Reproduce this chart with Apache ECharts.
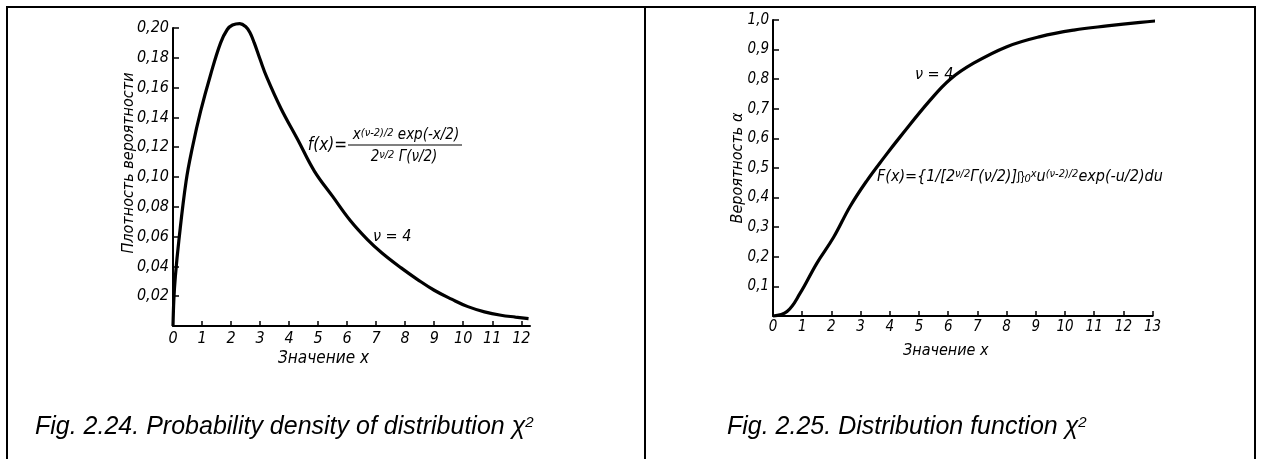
<!DOCTYPE html>
<html>
<head>
<meta charset="utf-8">
<script src="https://cdn.jsdelivr.net/npm/echarts@6/dist/echarts.min.js"></script>
<style>
  html, body { margin: 0; padding: 0; background: #fff; }
  #chart { width: 1263px; height: 459px; }
</style>
</head>
<body>
<div id="chart"></div>
<script>
// Chi-square distribution, v = 4: density (left) and distribution function (right)
const densityX = [0, 0.03, 0.08, 0.2, 0.45, 0.67, 0.95, 1.3, 1.64, 1.87, 2.05, 2.3, 2.5, 2.65, 2.8, 3.0, 3.23, 3.72, 4.3, 4.87, 5.5, 6.1, 6.7, 7.2, 7.86, 8.44, 9.0, 9.6, 10.16, 10.73, 11.3, 11.8, 12.25];
const densityY = [0, 0.018, 0.033, 0.057, 0.097, 0.12, 0.144, 0.169, 0.19, 0.199, 0.202, 0.203, 0.201, 0.197, 0.19, 0.179, 0.167, 0.146, 0.125, 0.104, 0.087, 0.071, 0.058, 0.049, 0.039, 0.031, 0.024, 0.018, 0.013, 0.0095, 0.0072, 0.006, 0.005];

const cdfX = [0, 0.48, 0.93, 1.5, 2.07, 2.64, 3.2, 3.8, 4.36, 5.39, 6.07, 6.87, 8.01, 9.15, 10.3, 11.44, 12.58, 13.49];
const cdfY = [0, 0.015, 0.077, 0.178, 0.265, 0.37, 0.455, 0.535, 0.606, 0.73, 0.8, 0.854, 0.91, 0.944, 0.966, 0.98, 0.992, 1.0];

const densityXTicks = [0, 1, 2, 3, 4, 5, 6, 7, 8, 9, 10, 11, 12];

const axisNames = {
  densityY: 'Плотность вероятности',
  cdfY: 'Вероятность α',
  x: 'Значение x'
};
const captions = [
  'Fig. 2.24. Probability density of distribution ',
  'Fig. 2.25. Distribution function '
];

const zip = (xs, ys) => xs.map((x, i) => [x, ys[i]]);

const NARROW = '"Liberation Sans Narrow", "DejaVu Sans Condensed", "Liberation Sans", sans-serif';
const CAPTION_FONT = '"Liberation Sans", Arial, sans-serif';

const axisLineStyle = { show: true, onZero: false, lineStyle: { color: '#000', width: 2 } };
const tickStyle = { show: true, inside: true, length: 5, lineStyle: { color: '#000', width: 1.5 } };

function labelFont(size) {
  return { color: '#000', fontFamily: NARROW, fontStyle: 'italic', fontSize: size };
}

const chart = echarts.init(document.getElementById('chart'), null, { renderer: 'canvas' });

chart.setOption({
  animation: false,
  backgroundColor: '#fff',
  grid: [
    { left: 173, top: 28, width: 357, height: 298 },
    { left: 773, top: 20, width: 379.6, height: 296 }
  ],
  xAxis: [
    {
      gridIndex: 0, type: 'value', min: 0, max: 12.3,
      axisLine: axisLineStyle,
      axisTick: Object.assign({}, tickStyle, { customValues: densityXTicks }),
      axisLabel: Object.assign(labelFont(16), { margin: 5, customValues: densityXTicks }),
      splitLine: { show: false },
      name: axisNames.x, nameLocation: 'middle', nameGap: 24, nameMoveOverlap: false,
      nameTextStyle: Object.assign(labelFont(17), { padding: [0, 56, 0, 0] })
    },
    {
      gridIndex: 1, type: 'value', min: 0, max: 13, interval: 1,
      axisLine: axisLineStyle,
      axisTick: tickStyle,
      axisLabel: Object.assign(labelFont(15), { margin: 4 }),
      splitLine: { show: false },
      name: axisNames.x, nameLocation: 'middle', nameGap: 27, nameMoveOverlap: false,
      nameTextStyle: Object.assign(labelFont(16), { padding: [0, 34, 0, 0] })
    }
  ],
  yAxis: [
    {
      gridIndex: 0, type: 'value', min: 0, max: 0.2, interval: 0.02,
      axisLine: axisLineStyle,
      axisTick: Object.assign({}, tickStyle, { length: 6 }),
      axisLabel: Object.assign(labelFont(16), {
        margin: 4,
        formatter: v => (v === 0 ? '' : v.toFixed(2).replace('.', ','))
      }),
      splitLine: { show: false },
      name: axisNames.densityY, nameLocation: 'middle', nameRotate: 90, nameGap: 36,
      nameMoveOverlap: false,
      nameTextStyle: Object.assign(labelFont(16), { padding: [0, 0, 0, 28] })
    },
    {
      gridIndex: 1, type: 'value', min: 0, max: 1, interval: 0.1,
      axisLine: axisLineStyle,
      axisTick: Object.assign({}, tickStyle, { length: 6 }),
      axisLabel: Object.assign(labelFont(15), {
        margin: 4,
        formatter: v => (v === 0 ? '' : v.toFixed(1).replace('.', ','))
      }),
      splitLine: { show: false },
      name: axisNames.cdfY, nameLocation: 'middle', nameRotate: 90, nameGap: 27,
      nameMoveOverlap: false,
      nameTextStyle: labelFont(16)
    }
  ],
  series: [
    {
      type: 'line', xAxisIndex: 0, yAxisIndex: 0,
      data: zip(densityX, densityY),
      smooth: 0.4, showSymbol: false, clip: false,
      lineStyle: { color: '#000', width: 3.2 }
    },
    {
      type: 'line', xAxisIndex: 1, yAxisIndex: 1,
      data: zip(cdfX, cdfY),
      smooth: 0.4, showSymbol: false, clip: false,
      lineStyle: { color: '#000', width: 3.2 }
    }
  ],
  graphic: [
    // frame around both figures
    {
      type: 'rect', silent: true,
      shape: { x: 7, y: 7, width: 1248, height: 470 },
      style: { fill: 'none', stroke: '#000', lineWidth: 2 }
    },
    {
      type: 'line', silent: true,
      shape: { x1: 645, y1: 7, x2: 645, y2: 470 },
      style: { stroke: '#000', lineWidth: 2 }
    },
    // density formula
    {
      type: 'text', x: 347, y: 146,
      style: { text: 'f(x)=', align: 'right', verticalAlign: 'middle', fill: '#000',
               fontFamily: NARROW, fontStyle: 'italic', fontSize: 17 }
    },
    {
      type: 'text', x: 406, y: 135,
      style: {
        text: '{m|x}{s|(ν-2)/2}{m| exp(-x/2)}',
        align: 'center', verticalAlign: 'middle', fill: '#000',
        rich: {
          m: { fontFamily: NARROW, fontStyle: 'italic', fontSize: 15, fill: '#000', verticalAlign: 'bottom' },
          s: { fontFamily: NARROW, fontStyle: 'italic', fontSize: 11, fill: '#000', verticalAlign: 'top' }
        }
      }
    },
    {
      type: 'line', silent: true,
      shape: { x1: 348, y1: 145, x2: 462, y2: 145 },
      style: { stroke: '#000', lineWidth: 1.2 }
    },
    {
      type: 'text', x: 404, y: 157,
      style: {
        text: '{m|2}{s|ν/2}{m| Γ(ν/2)}',
        align: 'center', verticalAlign: 'middle', fill: '#000',
        rich: {
          m: { fontFamily: NARROW, fontStyle: 'italic', fontSize: 15, fill: '#000', verticalAlign: 'bottom' },
          s: { fontFamily: NARROW, fontStyle: 'italic', fontSize: 11, fill: '#000', verticalAlign: 'top' }
        }
      }
    },
    {
      type: 'text', x: 373, y: 237,
      style: { text: 'ν = 4', align: 'left', verticalAlign: 'middle', fill: '#000',
               fontFamily: NARROW, fontStyle: 'italic', fontSize: 16 }
    },
    // distribution function formula
    {
      type: 'text', x: 877, y: 177,
      style: {
        text: '{m|F(x)={1/[2}{s|ν/2}{m|Γ(ν/2)]}∫}{b|0}{s|x}{m|u}{s|(ν-2)/2}{m|exp(-u/2)du}',
        align: 'left', verticalAlign: 'middle', fill: '#000',
        rich: {
          m: { fontFamily: NARROW, fontStyle: 'italic', fontSize: 16, fill: '#000', verticalAlign: 'middle' },
          s: { fontFamily: NARROW, fontStyle: 'italic', fontSize: 11, fill: '#000', verticalAlign: 'top' },
          b: { fontFamily: NARROW, fontStyle: 'italic', fontSize: 11, fill: '#000', verticalAlign: 'bottom' }
        }
      }
    },
    {
      type: 'text', x: 915, y: 75,
      style: { text: 'ν = 4', align: 'left', verticalAlign: 'middle', fill: '#000',
               fontFamily: NARROW, fontStyle: 'italic', fontSize: 16 }
    },
    // captions
    {
      type: 'text', x: 35, y: 440,
      style: {
        text: '{c|' + captions[0] + 'χ}{p|2}',
        align: 'left', verticalAlign: 'bottom', fill: '#000',
        rich: {
          c: { fontFamily: CAPTION_FONT, fontStyle: 'italic', fontSize: 25, fill: '#000', verticalAlign: 'bottom' },
          p: { fontFamily: CAPTION_FONT, fontStyle: 'italic', fontSize: 15, fill: '#000', verticalAlign: 'top' }
        }
      }
    },
    {
      type: 'text', x: 727, y: 440,
      style: {
        text: '{c|' + captions[1] + 'χ}{p|2}',
        align: 'left', verticalAlign: 'bottom', fill: '#000',
        rich: {
          c: { fontFamily: CAPTION_FONT, fontStyle: 'italic', fontSize: 25, fill: '#000', verticalAlign: 'bottom' },
          p: { fontFamily: CAPTION_FONT, fontStyle: 'italic', fontSize: 15, fill: '#000', verticalAlign: 'top' }
        }
      }
    }
  ]
});
</script>
</body>
</html>
